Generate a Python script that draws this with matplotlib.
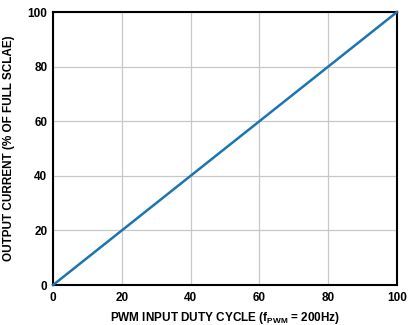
import matplotlib
matplotlib.use("Agg")
import matplotlib.pyplot as plt

duty_cycle = [0, 100]
output_current = [0, 100]
ticks = [0, 20, 40, 60, 80, 100]

plt.rcParams['font.family'] = ['Liberation Sans', 'DejaVu Sans']
plt.rcParams['font.weight'] = 'bold'

fig = plt.figure(figsize=(4.08, 3.25), dpi=100)
ax = fig.add_axes([0.130, 0.123, 0.843, 0.840])

ax.plot(duty_cycle, output_current, color='#1b75b1', linewidth=1.8, clip_on=False, zorder=3)

ax.set_xlim(0, 100)
ax.set_ylim(0, 100)
ax.set_xticks(ticks)
ax.set_yticks(ticks)
ax.tick_params(axis='x', length=0, labelsize=8.5, pad=5)
ax.tick_params(axis='y', length=0, labelsize=8.5, pad=4)
ax.grid(True, color='#c8c8c8', linewidth=0.9)
for s in ax.spines.values():
    s.set_linewidth(1.5)
    s.set_color('black')

ax.set_xlabel('PWM INPUT DUTY CYCLE (f$_\\mathregular{PWM}$ = 200Hz)', fontsize=8.5, fontweight='bold', labelpad=4)
ax.set_ylabel('OUTPUT CURRENT (% OF FULL SCLAE)', fontsize=8.5, fontweight='bold', labelpad=9)

fig.savefig('out.png', dpi=100)
